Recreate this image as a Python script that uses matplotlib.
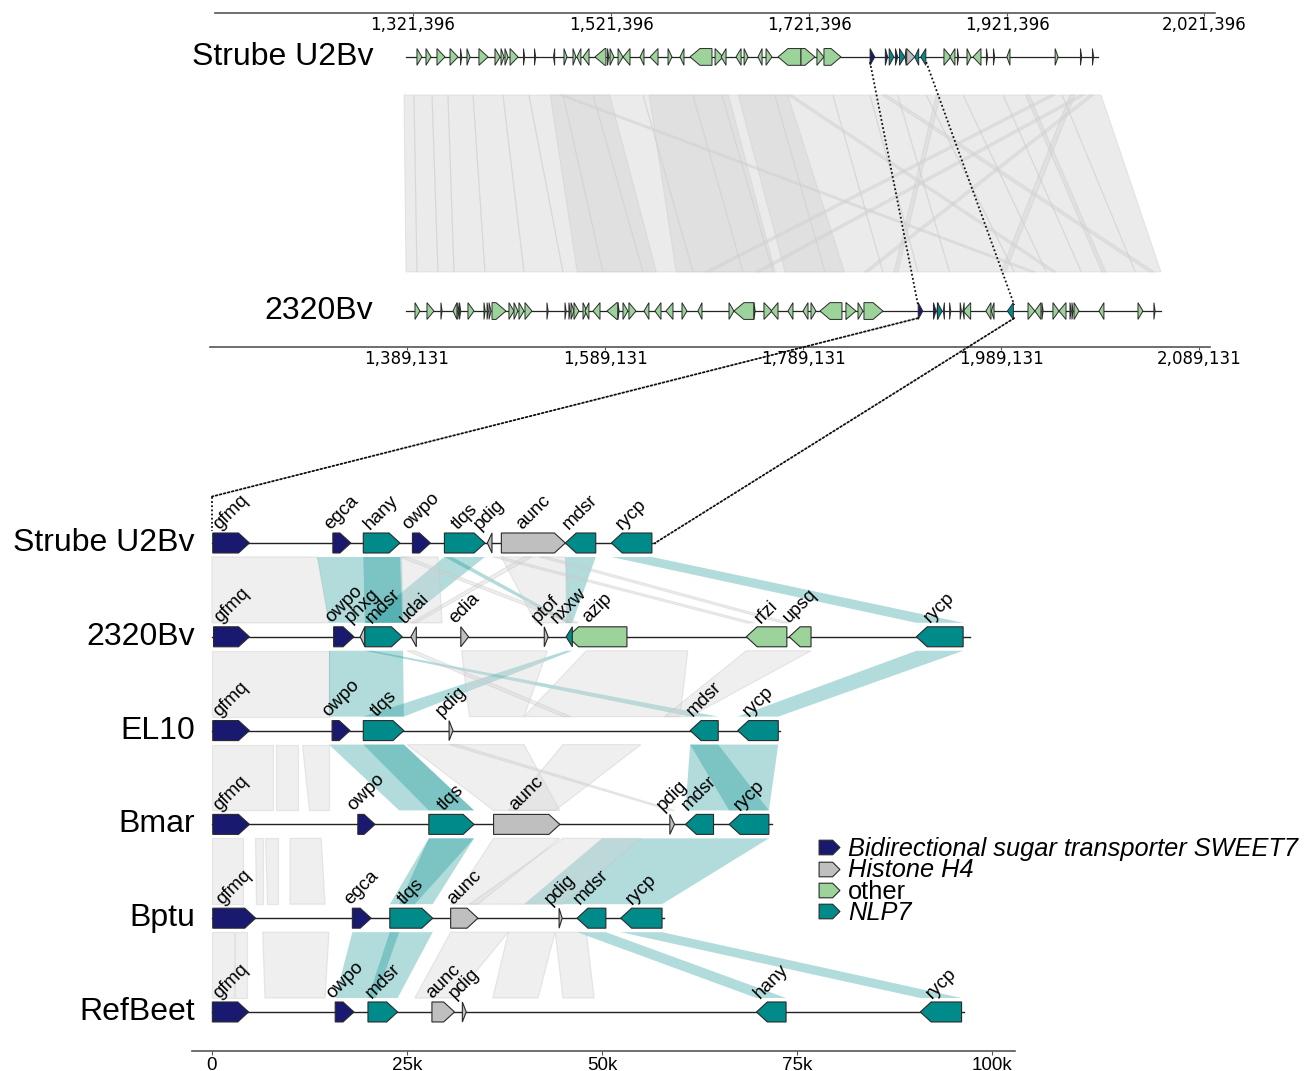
import matplotlib
matplotlib.use("Agg")
import matplotlib.pyplot as plt
import matplotlib.transforms as mtransforms
from matplotlib.patches import Polygon, ConnectionPatch
from matplotlib.lines import Line2D
from matplotlib.path import Path

plt.rcParams['font.family'] = ['Liberation Sans', 'DejaVu Sans']

# ---------------- data ----------------
CAT_COLORS = {"SWEET7": "#191970", "H4": "#bfbfbf", "other": "#9bd39b", "NLP7": "#008b8b"}
LEGEND_LABELS = ["Bidirectional sugar transporter SWEET7", "Histone H4", "other", "NLP7"]
LEGEND_CATS = ["SWEET7", "H4", "other", "NLP7"]
LEGEND_STYLE = ["italic", "italic", "normal", "italic"]

# ---- overview (kb) ----
OV_NAMES = ["Strube U2Bv", "2320Bv"]
OV_RANGE_S = (1314.3, 2013.3)
OV_RANGE_B = (1387.1, 2149.7)
REGION_S = (1783.0, 1839.8)
REGION_B = (1904.3, 2001.5)
S_TICKS = [1321.396, 1521.396, 1721.396, 1921.396, 2120.4]
S_TICKLABELS = ["1,321,396", "1,521,396", "1,721,396", "1,921,396", "2,021,396"]
B_TICKS = [1389.131, 1589.131, 1789.131, 1989.131, 2189.1]
B_TICKLABELS = ["1,389,131", "1,589,131", "1,789,131", "1,989,131", "2,089,131"]

S_OV_START = [1325.4, 1334.5, 1345.6, 1358.8, 1369.4, 1375.9, 1388.0, 1404.2, 1410.3, 1414.3,
              1419.4, 1433.0, 1444.1, 1463.3, 1473.9, 1483.0, 1487.0, 1493.1, 1505.2, 1517.9,
              1520.4, 1528.5, 1533.5, 1550.7, 1560.8, 1579.0, 1591.1, 1601.2, 1626.5, 1632.6,
              1647.7, 1655.8, 1669.9, 1678.0, 1690.1, 1713.3, 1729.4, 1736.5, 1857.7, 1863.7,
              1871.3, 1881.0, 1887.0, 1900.6, 1907.7, 1921.3, 1970.0, 1995.6, 2007.7]
S_OV_END = [1330.4, 1339.6, 1353.7, 1366.9, 1370.6, 1379.0, 1397.2, 1409.3, 1413.3, 1417.4,
            1427.5, 1434.2, 1445.3, 1464.5, 1477.0, 1486.0, 1491.0, 1499.2, 1516.3, 1519.1,
            1524.4, 1533.5, 1540.6, 1554.7, 1568.9, 1583.0, 1595.1, 1623.4, 1634.6, 1637.6,
            1652.8, 1659.8, 1674.0, 1684.0, 1713.3, 1727.4, 1736.5, 1753.7, 1864.7, 1868.8,
            1872.5, 1885.0, 1895.1, 1901.8, 1908.9, 1924.4, 1973.0, 1996.8, 2008.9]
S_OV_STRAND = [1, 1, 1, 1, 1, 1, 1, 1, 1, 1,
               1, 1, 1, -1, 1, 1, -1, -1, -1, 1,
               1, 1, -1, -1, -1, 1, -1, -1, 1, -1,
               -1, 1, -1, 1, -1, 1, 1, 1, 1, -1,
               1, 1, -1, 1, 1, -1, 1, 1, 1]

B_OV_START = [1396.2, 1408.3, 1422.4, 1434.6, 1439.4, 1441.2, 1449.7, 1465.9, 1469.0, 1471.0,
              1474.0, 1491.1, 1496.2, 1501.2, 1507.3, 1529.5, 1547.7, 1551.7, 1553.8, 1556.8,
              1565.9, 1567.9, 1576.0, 1590.1, 1601.2, 1606.3, 1612.3, 1627.5, 1638.6, 1649.7,
              1665.9, 1682.0, 1713.4, 1718.4, 1738.6, 1748.7, 1755.8, 1772.9, 1788.1, 1796.2,
              1805.3, 1831.5, 1843.7, 1849.7, 2015.4, 2022.4, 2029.5, 2040.6, 2046.7, 2057.8,
              2059.8, 2061.9, 2087.1, 2126.5, 2142.6]
B_OV_END = [1401.2, 1415.4, 1423.6, 1438.6, 1440.6, 1442.4, 1455.8, 1467.1, 1470.2, 1473.0,
            1488.1, 1496.2, 1500.2, 1506.3, 1514.4, 1530.7, 1548.9, 1552.9, 1556.8, 1561.8,
            1569.9, 1571.9, 1583.1, 1601.2, 1602.4, 1611.3, 1619.4, 1632.5, 1644.7, 1656.8,
            1670.9, 1686.1, 1718.4, 1738.6, 1739.8, 1756.8, 1762.9, 1778.0, 1793.2, 1801.2,
            1827.5, 1841.6, 1848.7, 1868.9, 2022.4, 2028.5, 2030.7, 2046.7, 2053.8, 2059.0,
            2061.0, 2066.9, 2092.1, 2131.5, 2143.8]
B_OV_STRAND = [1, 1, 1, -1, 1, 1, 1, 1, 1, 1,
               1, 1, 1, 1, 1, 1, 1, 1, 1, 1,
               1, -1, -1, -1, 1, 1, 1, -1, -1, -1,
               1, -1, 1, -1, 1, 1, -1, -1, -1, 1,
               -1, 1, 1, 1, 1, -1, 1, 1, -1, 1,
               1, 1, -1, 1, 1]

# overview links: (Strube start, Strube end, 2320Bv start, 2320Bv end)
OV_LINKS = [
    (1312.3, 1322.4, 1387.1, 1398.2), (1322.4, 1340.6, 1398.2, 1419.4), (1340.6, 1356.7, 1419.4, 1435.6),
    (1356.7, 1382.0, 1435.6, 1466.9), (1382.0, 1412.3, 1466.9, 1506.3), (1412.3, 1438.5, 1506.3, 1545.7),
    (1438.5, 1472.9, 1545.7, 1586.1), (1472.9, 1503.2, 1586.1, 1626.5), (1503.2, 1553.7, 1626.5, 1677.0),
    (1553.7, 1604.2, 1677.0, 1727.5), (1604.2, 1633.5, 1727.5, 1757.8), (1633.5, 1686.9, 1757.8, 1810.2),
    (1686.9, 1745.5, 1810.3, 1868.8), (1745.5, 1783.0, 1868.8, 1904.3), (1783.0, 1811.0, 1904.3, 1936.0),
    (1811.0, 1839.8, 1936.0, 2001.5), (1839.8, 1877.1, 2001.5, 2033.9),
    (1877.1, 1917.5, 2033.9, 2069.3), (1917.5, 1977.1, 2069.3, 2123.8), (1977.1, 2016.4, 2123.8, 2149.7),
    (1460.0, 1520.0, 1560.0, 1640.0), (1560.0, 1640.0, 1660.0, 1760.0), (1650.0, 1700.0, 1770.0, 1830.0),
    (1469.0, 1474.0, 2018.0, 2023.0), (1965.0, 1970.0, 1689.0, 1694.0), (1985.0, 1990.0, 1988.0, 1993.0),
    (1795.0, 1800.0, 2138.0, 2143.0), (1995.0, 2000.0, 1740.0, 1745.0), (1700.0, 1704.0, 2040.0, 2044.0),
    (1940.0, 1944.0, 2090.0, 2094.0), (1850.0, 1854.0, 1880.0, 1884.0), (2005.0, 2009.0, 1850.0, 1854.0),
]

# ---- detail tracks (kb from region start) ----
TRACK_NAMES = ["Strube U2Bv", "2320Bv", "EL10", "Bmar", "Bptu", "RefBeet"]
TRACK_LENGTH = [56.8, 97.2, 72.8, 71.8, 58.0, 96.4]

STRUBE_LABEL = ["gfmq", "egca", "hany", "owpo", "tlqs", "pdig", "aunc", "mdsr", "rycp"]
STRUBE_START = [0.1, 15.5, 19.4, 25.7, 29.8, 35.3, 37.1, 45.3, 51.2]
STRUBE_END = [4.8, 17.8, 24.1, 28.0, 35.0, 35.9, 45.3, 49.2, 56.4]
STRUBE_STRAND = [1, 1, 1, 1, 1, -1, 1, -1, -1]
STRUBE_CAT = ["SWEET7", "SWEET7", "NLP7", "SWEET7", "NLP7", "H4", "H4", "NLP7", "NLP7"]

B2320_LABEL = ["gfmq", "owpo", "pnxg", "mdsr", "udai", "edia", "ptof", "azip", "nxxw", "rfzi", "upsq", "rycp"]
B2320_START = [0.2, 15.6, 19.0, 19.6, 25.5, 31.9, 42.6, 45.6, 45.4, 68.5, 74.0, 90.3]
B2320_END = [4.8, 18.2, 19.6, 24.4, 26.2, 32.9, 43.1, 53.2, 46.2, 73.7, 76.8, 96.3]
B2320_STRAND = [1, 1, -1, 1, -1, 1, 1, -1, -1, -1, -1, -1]
B2320_CAT = ["SWEET7", "SWEET7", "H4", "NLP7", "H4", "H4", "H4", "other", "NLP7", "other", "other", "NLP7"]

EL10_LABEL = ["gfmq", "owpo", "tlqs", "pdig", "mdsr", "rycp"]
EL10_START = [0.1, 15.4, 19.4, 30.4, 61.3, 67.4]
EL10_END = [4.8, 17.7, 24.6, 30.9, 64.9, 72.6]
EL10_STRAND = [1, 1, 1, 1, -1, -1]
EL10_CAT = ["SWEET7", "SWEET7", "NLP7", "H4", "NLP7", "NLP7"]

BMAR_LABEL = ["gfmq", "owpo", "tlqs", "aunc", "pdig", "mdsr", "rycp"]
BMAR_START = [0.1, 18.7, 27.8, 36.1, 58.7, 60.7, 66.3]
BMAR_END = [4.8, 20.9, 33.6, 44.6, 59.3, 64.3, 71.4]
BMAR_STRAND = [1, 1, 1, 1, 1, -1, -1]
BMAR_CAT = ["SWEET7", "SWEET7", "NLP7", "H4", "H4", "NLP7", "NLP7"]

BPTU_LABEL = ["gfmq", "egca", "tlqs", "aunc", "pdig", "mdsr", "rycp"]
BPTU_START = [0.1, 18.0, 22.8, 30.6, 44.5, 46.8, 52.4]
BPTU_END = [5.6, 20.4, 28.3, 34.1, 44.9, 50.5, 57.7]
BPTU_STRAND = [1, 1, 1, 1, 1, -1, -1]
BPTU_CAT = ["SWEET7", "SWEET7", "NLP7", "H4", "H4", "NLP7", "NLP7"]

REFB_LABEL = ["gfmq", "owpo", "mdsr", "aunc", "pdig", "hany", "rycp"]
REFB_START = [0.05, 15.8, 20.0, 28.2, 32.1, 69.8, 90.8]
REFB_END = [4.7, 18.2, 23.8, 31.1, 32.6, 73.6, 96.1]
REFB_STRAND = [1, 1, 1, 1, 1, -1, -1]
REFB_CAT = ["SWEET7", "SWEET7", "NLP7", "H4", "H4", "NLP7", "NLP7"]

# detail links: (upper track, upper start, upper end, lower start, lower end, kind)
DETAIL_LINKS = [
    (0, 0.0, 13.5, 0.0, 15.0, "g"), (0, 13.5, 24.3, 15.0, 24.5, "t"), (0, 19.4, 24.1, 19.6, 24.4, "t"),
    (0, 29.8, 35.0, 19.6, 24.4, "t"), (0, 45.3, 49.2, 45.4, 46.2, "t"), (0, 29.8, 30.8, 45.4, 46.2, "t"),
    (0, 51.2, 56.4, 90.3, 96.3, "t"), (0, 37.1, 45.3, 41.5, 46.0, "g"), (0, 40.0, 41.0, 25.5, 26.2, "g"),
    (0, 24.0, 25.0, 46.0, 47.0, "g"), (0, 36.0, 37.0, 68.5, 69.5, "g"), (0, 42.0, 43.0, 73.0, 74.0, "g"),
    (0, 24.3, 29.0, 24.5, 29.5, "g"),
    (1, 0.0, 15.0, 0.0, 15.0, "g"), (1, 15.0, 24.5, 15.0, 24.6, "t"), (1, 90.3, 96.3, 67.4, 72.6, "t"),
    (1, 19.6, 20.6, 61.3, 64.9, "t"), (1, 45.4, 46.2, 19.4, 24.6, "t"), (1, 32.0, 43.0, 33.0, 40.0, "g"),
    (1, 48.0, 61.0, 40.0, 60.0, "g"), (1, 68.5, 76.8, 58.0, 61.3, "g"), (1, 25.0, 26.0, 45.0, 46.0, "g"),
    (2, 0.0, 7.8, 0.0, 7.8, "g"), (2, 8.2, 11.0, 8.2, 11.0, "g"), (2, 11.5, 15.0, 12.5, 15.0, "g"),
    (2, 15.0, 24.6, 24.0, 33.6, "t"), (2, 19.4, 24.6, 27.8, 33.6, "t"), (2, 61.3, 72.6, 60.7, 71.4, "t"),
    (2, 61.3, 64.9, 66.3, 71.4, "t"), (2, 25.0, 40.0, 36.1, 44.6, "g"), (2, 45.0, 55.0, 38.0, 44.0, "g"),
    (2, 30.4, 31.4, 58.7, 59.3, "g"),
    (3, 0.0, 4.0, 0.0, 4.0, "g"), (3, 5.5, 6.5, 5.7, 6.5, "g"), (3, 6.8, 8.5, 7.0, 8.5, "g"),
    (3, 10.0, 14.0, 10.0, 14.5, "g"), (3, 27.8, 33.6, 22.8, 28.3, "t"), (3, 27.8, 33.6, 24.0, 26.0, "t"),
    (3, 50.0, 71.4, 40.0, 57.7, "t"), (3, 36.1, 44.6, 30.6, 34.1, "g"), (3, 45.0, 55.0, 33.0, 45.0, "g"),
    (4, 0.0, 2.8, 0.0, 2.8, "g"), (4, 3.0, 4.5, 3.0, 4.5, "g"), (4, 6.5, 15.0, 6.8, 14.5, "g"),
    (4, 22.8, 28.3, 20.0, 23.8, "t"), (4, 18.0, 24.0, 15.8, 21.0, "t"), (4, 30.6, 38.0, 26.0, 31.1, "g"),
    (4, 46.8, 50.5, 69.8, 73.6, "t"), (4, 52.4, 57.7, 90.8, 96.1, "t"), (4, 38.0, 44.0, 36.0, 41.8, "g"),
    (4, 44.0, 48.0, 45.0, 49.0, "g"),
]

DETAIL_TICKS = [0, 25, 50, 75, 100]
DETAIL_TICKLABELS = ["0", "25k", "50k", "75k", "100k"]

# ---------------- drawing helpers ----------------
W, H = 1311, 1071
fig = plt.figure(figsize=(W / 100, H / 100), dpi=100)


def px_axes(x0, y0, x1, y1):
    return fig.add_axes([x0 / W, 1 - y1 / H, (x1 - x0) / W, (y1 - y0) / H])


def gene(ax, s, e, strand, y, h, color, head_max, lw=0.8, z=3):
    ln = e - s
    hd = min(head_max, ln)
    if strand > 0:
        pts = [(s, y - h / 2), (e - hd, y - h / 2), (e, y), (e - hd, y + h / 2), (s, y + h / 2)]
    else:
        pts = [(e, y - h / 2), (s + hd, y - h / 2), (s, y), (s + hd, y + h / 2), (e, y + h / 2)]
    ax.add_patch(Polygon(pts, closed=True, facecolor=color, edgecolor="#2a2a2a", lw=lw, zorder=z,
                         joinstyle="miter"))


def link(ax, a0, a1, ya, b0, b1, yb, fc, alpha, ec, elw, z=1):
    ax.add_patch(Polygon([(a0, ya), (a1, ya), (b1, yb), (b0, yb)], closed=True, facecolor=fc,
                         alpha=alpha, edgecolor=ec, lw=elw, zorder=z))


# ---------------- overview section ----------------
KB_PER_PX = 1.0101
S_LEFT_KB = 1121.396
S_XLIM = (S_LEFT_KB, S_LEFT_KB + 1000 * KB_PER_PX)
B_XLIM = (1389.131 - 197 * KB_PER_PX, 1389.131 - 197 * KB_PER_PX + 1000 * KB_PER_PX)
B_SHIFT = 72.8  # 2320Bv drawn shifted to align with Strube frame

ax_top = px_axes(215, 30, 1215, 340)
ax_top.set_xlim(*S_XLIM)
ax_top.set_ylim(1.114, -0.106)
ax_top.axis("off")

OV_H = 0.066
for (s0, s1, b0, b1) in OV_LINKS:
    link(ax_top, s0, s1, 0.15, b0 - B_SHIFT, b1 - B_SHIFT, 0.846, "#d3d3d3", 0.45, "#cfcfcf", 0.8)

ax_top.plot(OV_RANGE_S, [0, 0], color="#222222", lw=0.9, zorder=2)
ax_top.plot([OV_RANGE_B[0] - B_SHIFT, OV_RANGE_B[1] - B_SHIFT], [1, 1], color="#222222", lw=0.9, zorder=2)

for s, e, st in zip(S_OV_START, S_OV_END, S_OV_STRAND):
    gene(ax_top, s, e, st, 0, OV_H, CAT_COLORS["other"], 10, lw=0.7)
for s, e, st in zip(B_OV_START, B_OV_END, B_OV_STRAND):
    gene(ax_top, s - B_SHIFT, e - B_SHIFT, st, 1, OV_H, CAT_COLORS["other"], 10, lw=0.7)

for s, e, st, c in zip(STRUBE_START, STRUBE_END, STRUBE_STRAND, STRUBE_CAT):
    gene(ax_top, REGION_S[0] + s, REGION_S[0] + max(e, s + 1.2), st, 0, OV_H, CAT_COLORS[c], 10, lw=0.7)
for s, e, st, c in zip(B2320_START, B2320_END, B2320_STRAND, B2320_CAT):
    gene(ax_top, REGION_B[0] + s - B_SHIFT, REGION_B[0] + max(e, s + 1.2) - B_SHIFT, st, 1, OV_H,
         CAT_COLORS[c], 10, lw=0.7)

blend = mtransforms.blended_transform_factory(ax_top.transAxes, ax_top.transData)
ax_top.text(0.158, 0.0, OV_NAMES[0], transform=blend, ha="right", va="center", fontsize=23)
ax_top.text(0.158, 1.0, OV_NAMES[1], transform=blend, ha="right", va="center", fontsize=23)

for (x0, y0, xl, ticks, labels) in [(215, 13, S_XLIM, S_TICKS, S_TICKLABELS),
                                     (210, 347, B_XLIM, B_TICKS, B_TICKLABELS)]:
    axr = px_axes(x0, y0 - 5, x0 + 1000, y0)
    axr.set_xlim(*xl)
    axr.set_yticks([])
    for sp in ["top", "left", "right"]:
        axr.spines[sp].set_visible(False)
    axr.spines["bottom"].set_color("#555555")
    axr.spines["bottom"].set_linewidth(1.2)
    axr.patch.set_alpha(0)
    axr.set_xticks(ticks)
    axr.set_xticklabels(labels, fontsize=12, family="DejaVu Sans")
    axr.tick_params(axis="x", length=2, pad=0, color="#555555")

dot = dict(ls=(0, (1, 1.3)), color="#111111", lw=1.3)
ax_top.plot([REGION_S[0], REGION_B[0] - B_SHIFT], [0.02, 0.976], zorder=4, **dot)
ax_top.plot([REGION_S[1], REGION_B[1] - B_SHIFT], [0.02, 0.976], zorder=4, **dot)

# ---------------- detail section ----------------
ax = px_axes(192, 496, 1015, 1051)
ax.set_xlim(-2.56, 102.95)
ax.set_ylim(5.416, -0.501)
for sp in ["top", "left", "right"]:
    ax.spines[sp].set_visible(False)
ax.spines["bottom"].set_color("#555555")
ax.spines["bottom"].set_linewidth(1.2)
ax.set_yticks([])
ax.set_xticks(DETAIL_TICKS)
ax.set_xticklabels(DETAIL_TICKLABELS, fontsize=13.5)
ax.tick_params(axis="x", length=3, pad=1, color="#555555")

GH = 0.213
LINK_PAD = 0.149
tracks = [
    (STRUBE_LABEL, STRUBE_START, STRUBE_END, STRUBE_STRAND, STRUBE_CAT),
    (B2320_LABEL, B2320_START, B2320_END, B2320_STRAND, B2320_CAT),
    (EL10_LABEL, EL10_START, EL10_END, EL10_STRAND, EL10_CAT),
    (BMAR_LABEL, BMAR_START, BMAR_END, BMAR_STRAND, BMAR_CAT),
    (BPTU_LABEL, BPTU_START, BPTU_END, BPTU_STRAND, BPTU_CAT),
    (REFB_LABEL, REFB_START, REFB_END, REFB_STRAND, REFB_CAT),
]

for (ti, a0, a1, b0, b1, kind) in DETAIL_LINKS:
    if kind == "g":
        link(ax, a0, a1, ti + LINK_PAD, b0, b1, ti + 1 - LINK_PAD, "#d3d3d3", 0.35, "#c4c4c4", 0.9)
    else:
        link(ax, a0, a1, ti + LINK_PAD, b0, b1, ti + 1 - LINK_PAD, "#008b8b", 0.3, "none", 0)

for ti, (labels, starts, ends, strands, cats) in enumerate(tracks):
    ax.plot([0, TRACK_LENGTH[ti]], [ti, ti], color="#222222", lw=1.0, zorder=2)
    for lab, s, e, st, c in zip(labels, starts, ends, strands, cats):
        gene(ax, s, e, st, ti, GH, CAT_COLORS[c], 1.4, lw=0.8)
        ax.text((s + e) / 2, ti - GH / 2 - 0.005, lab, rotation=45, ha="center", va="bottom",
                fontsize=13.5, zorder=5)
    ax.text(-2.2, ti, TRACK_NAMES[ti], ha="right", va="center", fontsize=23, clip_on=False)

fig.add_artist(ConnectionPatch((REGION_B[0] - B_SHIFT, 1.028), (0, -0.495), "data", "data",
                               axesA=ax_top, axesB=ax, zorder=10, **dot))
fig.add_artist(ConnectionPatch((REGION_B[1] - B_SHIFT, 1.028), (TRACK_LENGTH[0], 0.0), "data", "data",
                               axesA=ax_top, axesB=ax, zorder=10, **dot))
ax.plot([0, 0], [-0.495, -0.13], clip_on=False, zorder=10, **dot)


def arrow_marker():
    verts = [(-1, -0.7), (0.3, -0.7), (1, 0), (0.3, 0.7), (-1, 0.7), (-1, -0.7)]
    codes = [Path.MOVETO] + [Path.LINETO] * 4 + [Path.CLOSEPOLY]
    return Path(verts, codes)


handles = [Line2D([], [], ls="none", marker=arrow_marker(), markersize=15, markerfacecolor=CAT_COLORS[c],
                  markeredgecolor="#2a2a2a", markeredgewidth=0.8) for c in LEGEND_CATS]
leg = fig.legend(handles, LEGEND_LABELS, loc="upper left", bbox_to_anchor=(816 / W, 1 - 837 / H),
                 frameon=False, fontsize=18.3, labelspacing=-0.1, handletextpad=0.25, handlelength=1.0,
                 borderpad=0, borderaxespad=0)
for t, sty in zip(leg.get_texts(), LEGEND_STYLE):
    t.set_fontstyle(sty)

fig.savefig("out.png", dpi=100)
